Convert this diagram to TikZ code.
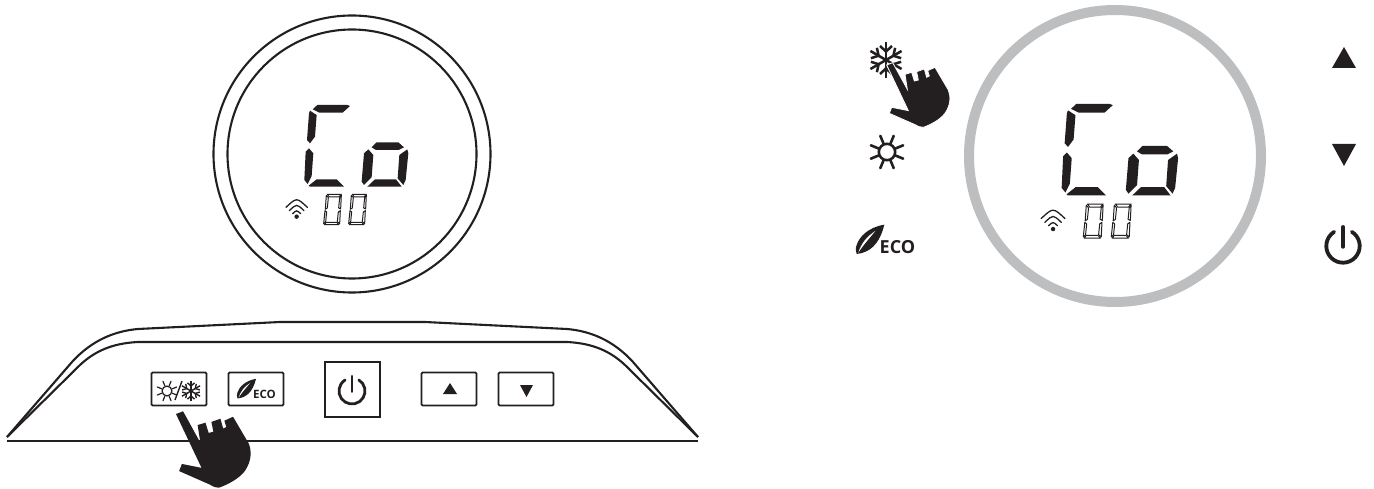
\documentclass[tikz,border=0pt]{standalone}
\usepackage{fontspec}
\newfontfamily\ecofont{Open Sans}
\definecolor{ink}{HTML}{231F20}
\definecolor{ringgray}{HTML}{BCBEC0}
\tikzset{
  x=1pt,y=-1pt,
  seg/.style={fill=ink,draw=none},
  thinseg/.style={draw=ink,line width=1pt,line join=round},
  btn/.style={draw=ink,line width=1.8pt,rounded corners=1.2pt,minimum width=55pt,minimum height=33pt,inner sep=0pt},
  pwrbtn/.style={draw=ink,line width=1.8pt,minimum width=55pt,minimum height=55pt,inner sep=0pt},
  outline/.style={draw=ink,line width=2.1pt,line join=round},
  tri/.style={fill=ink,draw=none},
  sym/.style={draw=ink,line cap=round},
}
\newcommand{\zerodigit}[2]{%
  \begin{scope}[shift={(#1,#2)}]
    \draw[thinseg] (12,1)--(54,1)--(47,9)--(18,9)--cycle;
    \draw[thinseg] (9,4)--(15,11)--(12,42)--(6,46)--cycle;
    \draw[thinseg] (5,50)--(10,54)--(7,84)--(1,89)--cycle;
    \draw[thinseg] (3,92)--(9,85)--(40,85)--(47,92)--cycle;
    \draw[thinseg] (51,50)--(49,89)--(42,83)--(45,54)--cycle;
    \draw[thinseg] (54,4)--(52,45)--(46,42)--(49,11)--cycle;
  \end{scope}}
\newcommand{\lcdshow}[4]{%
  \begin{scope}[shift={(#1,#2)},x=#3pt,y=-#3pt]
    \fill[seg] (158,58)--(172,45)--(262,45) to[bend left=10] (270,48)--(248,68)--(178,68)--cycle;
    \fill[seg] (150,62)--(170,75)--(165,140)--(150,160)--(141,150)--(147,70)--cycle;
    \fill[seg] (147,175)--(160,190)--(155,258)--(143,282)--(133,270)--(137,185)--cycle;
    \fill[seg] (146,287)--(170,268)--(230,268)--(252,290)--(150,290)--cycle;
    \fill[seg] (335,172)--(350,157)--(415,157)--(432,172)--(416,180)--(348,180)--cycle;
    \fill[seg] (442,178)--(445,190)--(437,270)--(430,285)--(413,265)--(418,195)--cycle;
    \fill[seg] (322,290)--(345,268)--(408,268)--(425,290)--cycle;
    \fill[seg] (325,178)--(340,195)--(335,262)--(312,285)--(305,275)--(312,190)--cycle;
    \zerodigit{190}{312}
    \zerodigit{265}{312}
    \fill[ink] (110,380) circle[radius=#4*1.7pt];
    \draw[ink,line width=#4pt,line cap=round] (78,352) .. controls (110,322) .. (142,352);
    \draw[ink,line width=#4pt,line cap=round] (88,362) .. controls (110,341) .. (132,362);
    \draw[ink,line width=#4pt,line cap=round] (98,371) .. controls (110,360) .. (122,371);
  \end{scope}}
\newcommand{\powersym}[4]{%
  \begin{scope}[shift={(#1,#2)}]
    \draw[sym,line width=#4pt] (58:#3pt) arc[start angle=58,end angle=-238,radius=#3pt];
    \draw[sym,line width=#4pt] (90:1.14*#3pt) -- (270:0.05*#3pt);
  \end{scope}}
\newcommand{\sunsym}[4]{%
  \begin{scope}[shift={(#1,#2)},scale=#3]
    \draw[sym,line width=#4pt] (0,0) circle[radius=8.2pt];
    \foreach \a in {22.5,67.5,...,337.5}
      \draw[sym,line width=#4pt,rotate=\a] (9pt,0pt) -- (17.5pt,0pt);
  \end{scope}}
\newcommand{\snowsym}[4]{%
  \begin{scope}[shift={(#1,#2)},scale=#3]
    \foreach \a in {30,90,...,330}{
      \begin{scope}[rotate=\a]
        \draw[ink,line width=#4pt] (0pt,0pt) -- (18pt,0pt);
        \draw[ink,line width=#4pt] (14pt,6pt) -- (8.5pt,0pt) -- (14pt,-6pt);
      \end{scope}}
  \end{scope}}
\newcommand{\leafsym}[3]{%
  \begin{scope}[shift={(#1,#2)},x=#3pt,y=-#3pt]
    \fill[ink] (133,584) .. controls (85,592) and (58,620) .. (50,645) .. controls (46,655) and (47,665) .. (50,672) .. controls (88,668) and (118,645) .. cycle;
    \fill[white] (55,668) .. controls (64,640) and (80,620) .. (106,603) .. controls (88,625) and (72,642) .. cycle;
  \end{scope}}
\newcommand{\handsym}[4]{%
  \begin{scope}[shift={(#1,#2)},x=#3pt,y=-#3pt]
    \path[fill=ink,#4] (140,105)--(158,98)--(202,178)--(195,133)--(215,127)--(223,153)--(235,150)--(230,125)--(253,117)--(260,142)--(268,138)--(263,122)--(285,112)--(325,180)
      .. controls (333,200) and (332,225) .. (315,250)
      .. controls (300,270) and (270,285) .. (250,292)
      .. controls (240,293) and (232,288) .. (225,284)
      --(148,250)--(155,232)--(205,242)--cycle;
  \end{scope}}
\begin{document}
\begin{tikzpicture}
\useasboundingbox (0,0) rectangle (1374,489);
% left display
\node[circle,draw=ink,line width=2.1pt,minimum size=277pt,inner sep=0pt] (outerdial) at (352,154) {};
\node[circle,draw=ink,line width=2.1pt,minimum size=249pt,inner sep=0pt] (innerdial) at (352,154) {};
\lcdshow{260}{90}{0.3333}{1.3}
% panel
\draw[outline] (7,437) -- (72,362) .. controls (92,340) and (115,331) .. (138,329) -- (280,322) -- (425,322) -- (567,329) .. controls (590,331) and (613,340) .. (633,362) -- (698,437);
\draw[outline] (7,437) -- (80,365) .. controls (98,348) and (118,343) .. (138,342) -- (567,342) .. controls (587,343) and (607,348) .. (625,365) -- (698,437);
\draw[ink,line width=2.2pt] (7,441) -- (698,441);
\node[btn] (modebtn) at (179,389) {};
\node[btn] (ecobtn) at (256,389) {};
\node[pwrbtn] (powerbtn) at (352.5,389.5) {};
\node[btn] (upbtn) at (449,389) {};
\node[btn] (downbtn) at (526,389) {};
\sunsym{167}{391}{0.6}{1.2}
\draw[ink,line width=1.4pt] (175,400) -- (182,381);
\snowsym{191}{391}{0.58}{1.4}
\leafsym{226.3}{248.3}{0.2235}
\node[anchor=base west,inner sep=0pt,font=\ecofont\bfseries\fontsize{11.5}{11.5}\selectfont,text=ink] (ecosmall) at (253,398) {ECO};
\powersym{352}{391}{13}{2.8}
\fill[tri] (443,394)--(457,394)--(450,383)--cycle;
\fill[tri] (520,385)--(533,385)--(526.5,397)--cycle;
\handsym{120.93}{372.73}{0.3933}{}
% right display
\node[circle,draw=ringgray,line width=10pt,minimum size=292pt,inner sep=0pt] (ring) at (1115,156) {};
\lcdshow{1012}{87.2}{0.3733}{1.3}
\snowsym{886}{60}{1}{2.5}
\handsym{840}{30}{0.3333}{draw=white,line width=0.8pt}
\sunsym{887}{152}{1}{2.6}
\leafsym{840}{30}{0.3333}
\node[anchor=base west,inner sep=0pt,font=\ecofont\bfseries\fontsize{18}{18}\selectfont,text=ink] (ecolarge) at (879.5,254) {ECO};
\fill[tri] (1332,68)--(1356,68)--(1344,47)--cycle;
\fill[tri] (1332,144)--(1356,144)--(1344,166)--cycle;
\powersym{1343}{246}{16.7}{3.8}
\end{tikzpicture}
\end{document}
